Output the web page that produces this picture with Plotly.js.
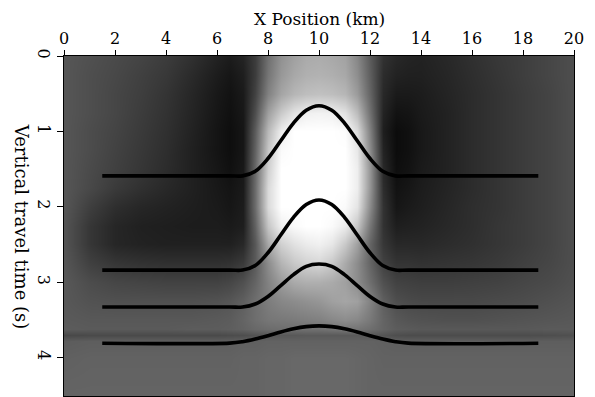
<!DOCTYPE html>
<html>
<head>
<meta charset="utf-8">
<script src="https://cdn.plot.ly/plotly-3.0.1.min.js"></script>
<style>html,body{margin:0;padding:0;background:#fff;}#chart{width:595px;height:397px;}</style>
</head>
<body>
<div id="chart"></div>
<script>
// Grid positions of the image (km, s)
var gridX = [0,1,2,3,4,5,6,6.5,7,7.5,8,8.5,9,9.5,10,10.5,11,11.5,12,12.5,13,13.5,14,15,16,17,18,19,20];
var gridT = [0,0.25,0.5,0.75,1,1.25,1.5,1.75,2,2.25,2.5,2.75,3,3.25,3.5,3.62,3.7,3.78,4,4.5];
// Gray levels (0 = black, 255 = white), one row per time sample
var r00 = [86,80,74,68,60,48,34,28,36,60,112,145,160,170,172,168,162,135,90,50,40,36,34,40,48,56,62,70,78];
var r01 = [86,78,72,64,56,42,28,22,30,60,118,152,168,176,178,175,168,142,94,44,34,32,32,38,46,54,62,70,78];
var r02 = [86,78,70,62,52,38,24,18,26,66,130,165,182,190,193,190,182,155,100,40,26,26,28,36,44,52,60,68,78];
var r03 = [86,78,70,60,50,36,22,16,24,78,160,202,228,240,242,240,226,188,112,35,18,20,26,34,44,52,60,68,78];
var r04 = [86,76,68,58,48,34,20,14,22,92,185,238,255,255,255,255,252,220,128,30,12,16,24,34,44,52,60,68,78];
var r05 = [86,76,66,56,46,32,20,14,22,98,198,250,255,255,255,255,255,232,138,35,12,16,24,34,44,52,60,68,78];
var r06 = [86,74,64,54,44,32,22,16,24,104,208,255,255,255,255,255,255,238,148,40,14,18,26,34,44,52,60,68,78];
var r07 = [86,72,58,48,40,32,24,20,26,108,218,255,255,255,255,255,255,238,148,45,18,22,28,36,44,52,60,68,78];
var r08 = [86,62,46,38,34,30,26,22,28,108,218,255,255,255,255,255,250,228,138,50,22,26,30,38,46,52,60,68,78];
var r09 = [84,54,38,32,30,28,28,26,30,98,198,240,250,255,255,250,235,198,118,50,30,32,34,40,46,54,60,68,78];
var r10 = [84,54,38,34,32,32,32,32,40,88,168,208,225,235,240,230,200,160,100,55,40,40,40,44,48,54,60,68,78];
var r11 = [86,64,54,50,48,48,48,50,58,90,140,180,200,210,215,200,170,140,100,65,52,52,50,52,54,58,64,70,78];
var r12 = [88,76,70,68,66,66,66,70,80,100,130,155,170,175,175,170,160,140,110,80,66,64,62,62,64,66,70,74,80];
var r13 = [88,82,80,80,80,80,82,86,95,110,125,135,140,145,150,160,165,160,130,95,78,74,72,72,72,74,76,80,84];
var r14 = [90,88,88,88,88,88,90,92,100,110,118,120,122,125,128,135,140,135,120,100,88,84,82,80,80,82,84,86,88];
var r15 = [92,90,90,90,90,92,92,94,98,104,108,110,110,112,112,116,118,116,110,100,92,90,88,88,88,88,88,90,90];
var r16 = [72,74,74,74,74,74,74,76,78,82,86,88,88,90,90,90,90,90,88,84,78,76,76,76,76,76,76,78,80];
var r17 = [92,94,94,94,94,94,94,94,96,96,98,98,98,98,98,98,98,98,98,96,94,94,94,94,94,94,94,94,94];
var r18 = [96,98,98,98,98,98,98,98,100,100,102,102,104,104,104,104,104,102,100,98,98,98,98,98,98,98,98,98,98];
var r19 = [100,100,100,100,100,100,100,100,100,100,102,102,104,104,104,104,104,102,100,100,100,100,100,100,100,100,100,100,100];

// Horizon curves
var curveX = [1.5,6.5,7,7.5,8,8.5,9,9.5,10,10.5,11,11.5,12,12.5,13,13.5,18.6];
var horizon1 = [1.59,1.59,1.59,1.53,1.36,1.125,0.89,0.72,0.66,0.72,0.89,1.125,1.36,1.53,1.59,1.59,1.59];
var horizon2 = [2.84,2.84,2.84,2.78,2.61,2.375,2.14,1.97,1.91,1.97,2.14,2.375,2.61,2.78,2.84,2.84,2.84];
var horizon3 = [3.33,3.33,3.33,3.29,3.19,3.045,2.90,2.79,2.76,2.79,2.90,3.045,3.19,3.29,3.33,3.33,3.33];
var horizon4 = [3.81,3.808,3.79,3.755,3.71,3.661,3.619,3.59,3.58,3.59,3.619,3.661,3.71,3.755,3.79,3.808,3.81];

var xTicks = [0,2,4,6,8,10,12,14,16,18,20];
var yTicks = [0,1,2,3,4];

var zGrid = [r00,r01,r02,r03,r04,r05,r06,r07,r08,r09,r10,r11,r12,r13,r14,r15,r16,r17,r18,r19];

var traces = [{
  type: 'heatmap', x: gridX, y: gridT, z: zGrid,
  zmin: 0, zmax: 255, zsmooth: 'best', showscale: false,
  colorscale: [[0,'#000000'],[1,'#ffffff']], hoverinfo: 'skip'
}];
[horizon1, horizon2, horizon3, horizon4].forEach(function(h){
  traces.push({type:'scatter', mode:'lines', x: curveX, y: h,
    line:{color:'#000', width:3.6, shape:'spline', smoothing:1}, hoverinfo:'skip', showlegend:false});
});

var fontF = 'DejaVu Serif, serif';
var layout = {
  width: 595, height: 397,
  margin: {l:64, r:21, t:56, b:1},
  paper_bgcolor: '#fff', plot_bgcolor: '#fff',
  showlegend: false,
  font: {family: fontF, color:'#000', size: 15},
  xaxis: {
    side: 'top', range: [0,20], tickvals: xTicks, ticktext: xTicks.map(String),
    ticks: 'outside', ticklen: 5, tickwidth: 1, tickcolor: '#000',
    showline: true, linecolor: '#000', linewidth: 1, mirror: true,
    showgrid: false, zeroline: false,
    tickfont: {family: fontF, size: 16}
  },
  yaxis: {
    range: [4.51, 0], tickvals: yTicks, ticktext: yTicks.map(String),
    ticks: 'outside', ticklen: 6, tickwidth: 1, tickcolor: '#000', tickangle: 90,
    showline: true, linecolor: '#000', linewidth: 1, mirror: true,
    showgrid: false, zeroline: false,
    tickfont: {family: fontF, size: 16}
  },
  annotations: [{
    text: 'X Position (km)', xref: 'paper', yref: 'paper',
    x: 0.5, y: 1 + (56 - 19) / 340, xanchor: 'center', yanchor: 'middle',
    showarrow: false, font: {family: fontF, size: 17, color:'#000'}
  }, {
    text: 'Vertical travel time (s)', xref: 'paper', yref: 'paper',
    x: -0.082, y: 0.5, xanchor: 'center', yanchor: 'middle',
    textangle: 90, showarrow: false, font: {family: fontF, size: 18, color:'#000'}
  }]
};
Plotly.newPlot('chart', traces, layout, {displayModeBar: false, staticPlot: true});
</script>
</body>
</html>
